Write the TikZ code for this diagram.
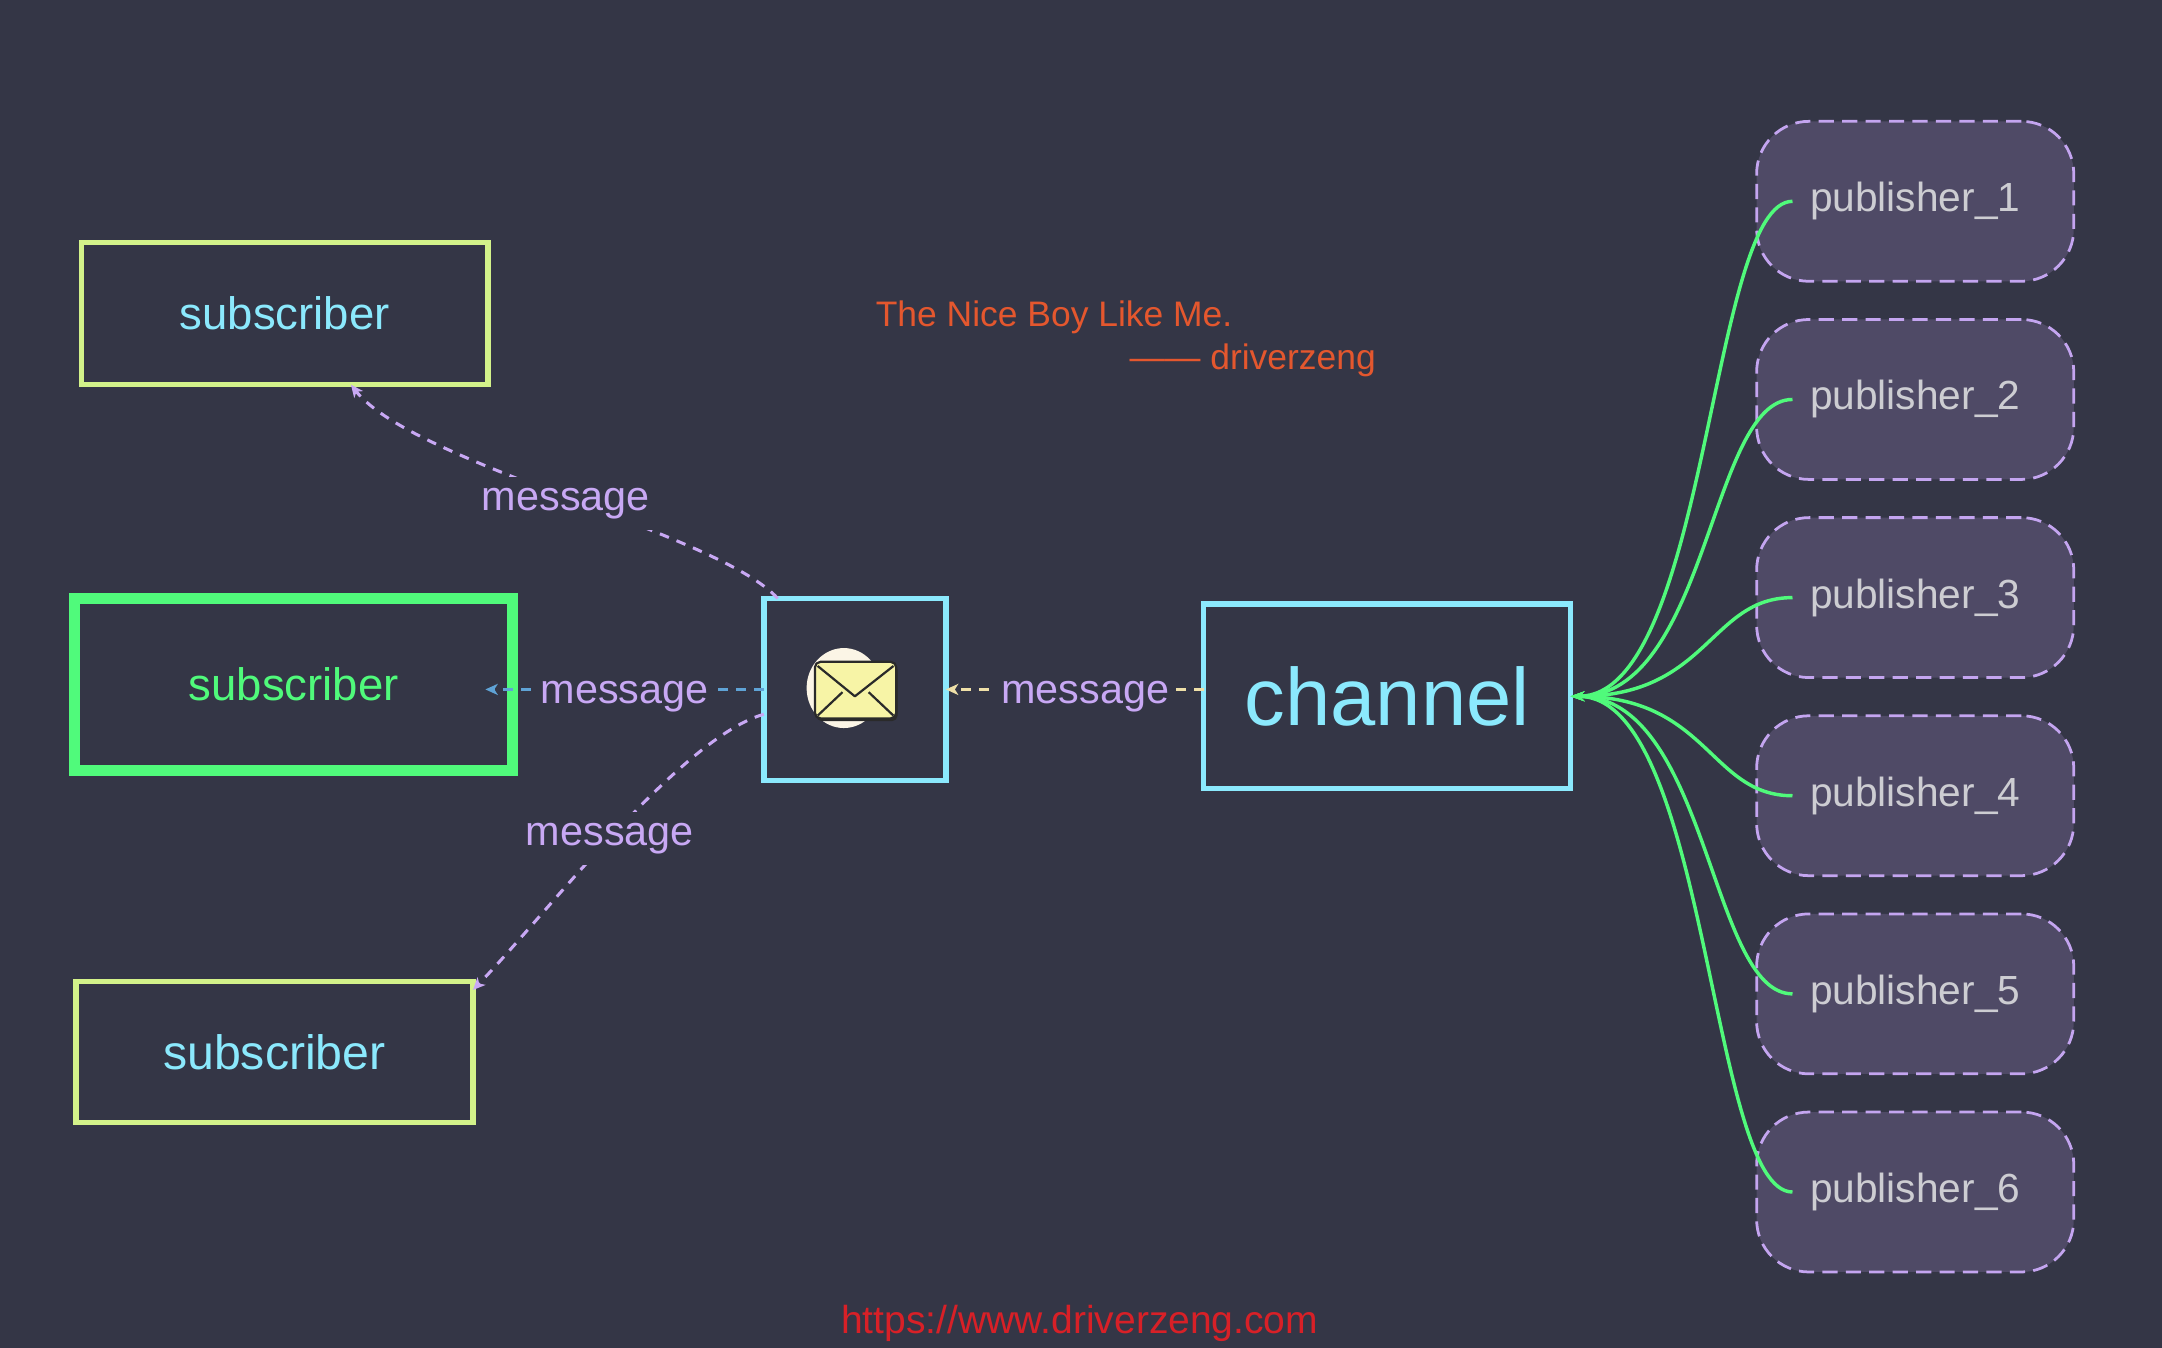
\documentclass[tikz,border=0pt]{standalone}
\usepackage{fontspec}
\setmainfont{Liberation Sans}
\usetikzlibrary{arrows.meta}
\definecolor{bg}{HTML}{343646}
\definecolor{subyg}{HTML}{D3F28A}
\definecolor{dgreen}{HTML}{50FA7B}
\definecolor{dcyan}{HTML}{8BE9FD}
\definecolor{dpurple}{HTML}{C8A8F4}
\definecolor{publine}{HTML}{C4A5F0}
\definecolor{pubfill}{HTML}{4F4A66}
\definecolor{pubtext}{HTML}{CDCDD2}
\definecolor{quotecol}{HTML}{E4572E}
\definecolor{urlred}{HTML}{D82027}
\definecolor{msgblue}{HTML}{5FA3D6}
\definecolor{msgyellow}{HTML}{EFE0A8}
\definecolor{envfill}{HTML}{F7F4A6}
\definecolor{envblob}{HTML}{FBF5E6}
\definecolor{envline}{HTML}{2A2A2A}
\newcommand{\fsz}[1]{\fontsize{#1}{#1}\selectfont}
\begin{document}
\begin{tikzpicture}[x=1pt,y=-1pt,
  subbox/.style={draw=subyg, line width=4pt, inner sep=0pt, outer sep=0pt, minimum width=295pt, minimum height=103pt, text=dcyan, font=\fsz{33}},
  hotbox/.style={draw=dgreen, line width=8pt, inner sep=0pt, outer sep=0pt, minimum width=318pt, minimum height=125pt, text=dgreen, font=\fsz{33}},
  cyanbox/.style={draw=dcyan, line width=4pt, inner sep=0pt, outer sep=0pt},
  pubbox/.style={draw=publine, fill=pubfill, line width=2pt, dash pattern=on 11pt off 6pt, rounded corners=38pt, minimum width=230pt, minimum height=116pt, inner sep=0pt, text=pubtext, font=\fsz{29.5}},
  msgline/.style={line width=2.2pt, dash pattern=on 7pt off 6pt, -{Stealth[length=9pt,width=8pt,inset=2.5pt]}},
  msglabel/.style={fill=bg, text=dpurple, font=\fsz{30}, inner xsep=5pt, inner ysep=8pt, yshift=-5pt},
  feed/.style={draw=dgreen, line width=2.5pt, {Stealth[length=10pt,width=7pt]}-},
  quotetext/.style={text=quotecol, font=\fsz{25.7}, inner sep=0pt}
]
\fill[bg] (0,0) rectangle (1568,977.6);
\useasboundingbox (0,0) rectangle (1568,977.6);

% subscribers
\node[subbox] (sub1) at (206.5,227.5) {subscriber};
\node[hotbox] (sub2) at (213,496.5) {subscriber};
\node[subbox, minimum width=288pt, minimum height=102pt, font=\fsz{35}] (sub3) at (199,763) {subscriber};

% envelope box and channel
\node[cyanbox, minimum width=132pt, minimum height=132pt] (env) at (620,500) {};
\node[cyanbox, minimum width=266pt, minimum height=134pt, text=dcyan, font=\fsz{59}] (channel) at (1006,505) {channel};

% envelope icon
\begin{scope}[shift={(env.center)}]
  \fill[envblob] (-8,-1) ellipse [x radius=27, y radius=29];
  \fill[envline, rounded corners=4pt] (-28,-18) rectangle (31,23);
  \filldraw[fill=envfill, draw=envline, line width=1.6pt, rounded corners=4pt] (-29,-20) rectangle (30,21);
  \draw[envline, line width=1.6pt, line join=round] (-27,-17) -- (0,5) -- (28,-17);
  \draw[envline, line width=1.6pt] (-27,19) -- (-9,2) (28,19) -- (10,2);
\end{scope}

% publishers
\foreach \i in {1,...,6} {
  \node[pubbox] (p\i) at (1389,{146+143.7*(\i-1)}) {publisher\_\i};
  \coordinate (pin\i) at ([xshift=27pt]p\i.west);
}
\foreach \i in {1,...,6} {
  \draw[feed] (channel.east) .. controls +(100,0) and +(-60,0) .. (pin\i);
}

% message connectors
\draw[msgline, msgyellow] (channel.west |- env.east) -- (env.east)
  node[msglabel, pos=0.46, inner ysep=3pt] {message};

\coordinate (sub2in) at ([xshift=-20pt]sub2.east);
\draw[msgline, msgblue] (env.west) -- (env.west -| sub2in)
  node[msglabel, midway, inner ysep=3pt] {message};

\coordinate (envtop) at ([xshift=10pt]env.north west);
\coordinate (sub1end) at ([xshift=48pt]sub1.south);
\draw[msgline, dpurple] (envtop) .. controls +(-42,-47) and +(45,57) .. (sub1end)
  node[msglabel, pos=0.5] {message};

\coordinate (envlow) at ([yshift=-18pt]env.west);
\coordinate (sub3end) at ([yshift=-6pt]sub3.north east);
\draw[msgline, dpurple] (envlow) .. controls +(-60,17) and +(54,-56) .. (sub3end)
  node[msglabel, pos=0.5, xshift=-4pt] {message};

% texts
\node[quotetext, anchor=west] (quote) at (635,230) {The Nice Boy Like Me.};
\node[quotetext, anchor=east] (author) at (998,261) {—— driverzeng};
\node[text=urlred, font=\fsz{28.3}, inner sep=0pt] (url) at (783,960) {https://www.driverzeng.com};
\end{tikzpicture}
\end{document}
